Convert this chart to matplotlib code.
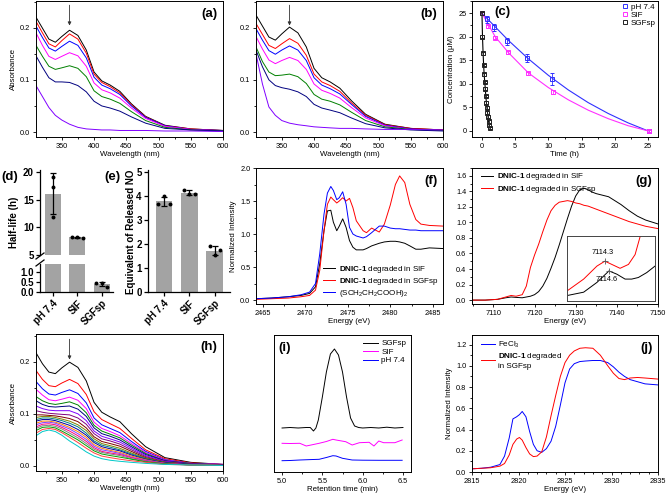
import numpy as np
import matplotlib
matplotlib.use('Agg')
import matplotlib.pyplot as plt
from matplotlib.ticker import MultipleLocator
from matplotlib.lines import Line2D

plt.rcParams['font.family'] = ['Liberation Sans', 'DejaVu Sans']
plt.rcParams['mathtext.fontset'] = 'custom'
plt.rcParams['mathtext.rm'] = 'Liberation Sans'
plt.rcParams['mathtext.bf'] = 'Liberation Sans:bold'
plt.rcParams['mathtext.it'] = 'Liberation Sans:italic'

# ---------------- data ----------------
wl = [310, 320, 330, 340, 350, 362, 375, 388, 400, 412, 425, 440, 458, 480, 510, 550, 600]

spec_a = [
    [0.220, 0.199, 0.178, 0.172, 0.183, 0.195, 0.185, 0.157, 0.115, 0.098, 0.090, 0.078, 0.054, 0.030, 0.013, 0.006, 0.003],
    [0.212, 0.190, 0.169, 0.163, 0.175, 0.188, 0.178, 0.151, 0.111, 0.095, 0.087, 0.075, 0.052, 0.029, 0.012, 0.006, 0.003],
    [0.203, 0.181, 0.161, 0.155, 0.164, 0.174, 0.166, 0.142, 0.105, 0.090, 0.083, 0.072, 0.050, 0.028, 0.012, 0.005, 0.003],
    [0.190, 0.166, 0.145, 0.139, 0.145, 0.152, 0.146, 0.126, 0.094, 0.081, 0.075, 0.065, 0.046, 0.026, 0.011, 0.005, 0.002],
    [0.166, 0.145, 0.126, 0.120, 0.123, 0.127, 0.122, 0.106, 0.079, 0.068, 0.063, 0.055, 0.039, 0.022, 0.009, 0.004, 0.002],
    [0.146, 0.124, 0.104, 0.096, 0.096, 0.095, 0.089, 0.077, 0.059, 0.050, 0.046, 0.040, 0.029, 0.017, 0.007, 0.004, 0.002],
    [0.089, 0.068, 0.047, 0.032, 0.023, 0.015, 0.009, 0.006, 0.005, 0.004, 0.004, 0.003, 0.003, 0.003, 0.002, 0.002, 0.001],
]
spec_b = [
    [0.224, 0.203, 0.182, 0.176, 0.188, 0.201, 0.190, 0.163, 0.122, 0.104, 0.096, 0.084, 0.060, 0.034, 0.015, 0.007, 0.004],
    [0.208, 0.187, 0.166, 0.160, 0.169, 0.179, 0.170, 0.147, 0.111, 0.096, 0.089, 0.078, 0.056, 0.032, 0.014, 0.007, 0.004],
    [0.198, 0.176, 0.156, 0.149, 0.157, 0.165, 0.157, 0.137, 0.104, 0.090, 0.083, 0.073, 0.053, 0.030, 0.013, 0.006, 0.003],
    [0.183, 0.159, 0.138, 0.131, 0.137, 0.143, 0.137, 0.120, 0.092, 0.080, 0.074, 0.065, 0.047, 0.027, 0.012, 0.005, 0.003],
    [0.163, 0.135, 0.115, 0.108, 0.109, 0.111, 0.106, 0.093, 0.072, 0.063, 0.059, 0.052, 0.038, 0.022, 0.010, 0.005, 0.003],
    [0.157, 0.125, 0.100, 0.089, 0.085, 0.082, 0.077, 0.068, 0.053, 0.046, 0.042, 0.037, 0.027, 0.016, 0.008, 0.004, 0.002],
    [0.150, 0.092, 0.048, 0.032, 0.022, 0.017, 0.014, 0.012, 0.010, 0.009, 0.008, 0.007, 0.007, 0.006, 0.005, 0.005, 0.004],
]
colors_ab = ['#000000', '#ff0000', '#0000ff', '#ff00ff', '#008000', '#000080', '#8000ff']

spec_h = [
    [0.217, 0.196, 0.180, 0.177, 0.188, 0.199, 0.189, 0.163, 0.122, 0.103, 0.094, 0.085, 0.062, 0.037, 0.016, 0.007, 0.003],
    [0.183, 0.166, 0.154, 0.152, 0.159, 0.166, 0.158, 0.137, 0.104, 0.089, 0.081, 0.072, 0.053, 0.031, 0.014, 0.006, 0.003],
    [0.162, 0.148, 0.138, 0.136, 0.141, 0.146, 0.139, 0.121, 0.092, 0.079, 0.072, 0.064, 0.047, 0.028, 0.012, 0.005, 0.003],
    [0.147, 0.136, 0.127, 0.125, 0.128, 0.132, 0.126, 0.110, 0.084, 0.072, 0.066, 0.058, 0.043, 0.026, 0.011, 0.005, 0.003],
    [0.133, 0.125, 0.120, 0.118, 0.120, 0.123, 0.117, 0.102, 0.078, 0.067, 0.061, 0.054, 0.040, 0.024, 0.010, 0.005, 0.002],
    [0.125, 0.118, 0.114, 0.113, 0.114, 0.115, 0.109, 0.095, 0.073, 0.062, 0.057, 0.050, 0.037, 0.022, 0.010, 0.004, 0.002],
    [0.115, 0.110, 0.107, 0.106, 0.106, 0.106, 0.100, 0.087, 0.067, 0.057, 0.052, 0.046, 0.034, 0.020, 0.009, 0.004, 0.002],
    [0.106, 0.103, 0.101, 0.100, 0.099, 0.098, 0.092, 0.080, 0.062, 0.052, 0.048, 0.042, 0.031, 0.018, 0.008, 0.004, 0.002],
    [0.098, 0.098, 0.097, 0.096, 0.094, 0.091, 0.085, 0.073, 0.056, 0.047, 0.043, 0.038, 0.028, 0.016, 0.007, 0.003, 0.001],
    [0.093, 0.095, 0.095, 0.093, 0.090, 0.086, 0.079, 0.068, 0.052, 0.043, 0.039, 0.034, 0.025, 0.015, 0.007, 0.003, 0.001],
    [0.089, 0.092, 0.092, 0.090, 0.087, 0.082, 0.075, 0.063, 0.048, 0.040, 0.036, 0.031, 0.023, 0.014, 0.006, 0.003, 0.001],
    [0.086, 0.089, 0.089, 0.087, 0.083, 0.078, 0.070, 0.059, 0.045, 0.037, 0.033, 0.029, 0.021, 0.013, 0.006, 0.003, 0.001],
    [0.082, 0.086, 0.086, 0.084, 0.080, 0.074, 0.066, 0.055, 0.041, 0.034, 0.030, 0.026, 0.019, 0.012, 0.005, 0.002, 0.001],
    [0.079, 0.083, 0.084, 0.082, 0.077, 0.071, 0.062, 0.051, 0.038, 0.031, 0.028, 0.024, 0.017, 0.011, 0.005, 0.002, 0.001],
    [0.075, 0.080, 0.081, 0.079, 0.074, 0.067, 0.058, 0.047, 0.035, 0.028, 0.025, 0.022, 0.016, 0.010, 0.005, 0.002, 0.001],
    [0.072, 0.077, 0.078, 0.076, 0.071, 0.063, 0.054, 0.043, 0.032, 0.026, 0.023, 0.020, 0.014, 0.009, 0.004, 0.002, 0.001],
    [0.068, 0.074, 0.075, 0.073, 0.067, 0.059, 0.050, 0.039, 0.029, 0.023, 0.020, 0.017, 0.013, 0.008, 0.004, 0.002, 0.001],
    [0.063, 0.070, 0.072, 0.070, 0.064, 0.055, 0.045, 0.034, 0.025, 0.019, 0.016, 0.013, 0.010, 0.007, 0.003, 0.002, 0.001],
    [0.058, 0.066, 0.069, 0.066, 0.059, 0.048, 0.038, 0.027, 0.019, 0.014, 0.011, 0.009, 0.007, 0.005, 0.003, 0.002, 0.001],
]
colors_h = ['#000000', '#ff0000', '#0000ff', '#ff00ff', '#008000', '#000080', '#8000ff', '#800080',
            '#800000', '#808000', '#008080', '#0000a0', '#ff8000', '#8040ff', '#ff0080', '#808080',
            '#00a000', '#ff4040', '#00c8c8']

# (c) kinetics
t_ph = [0.0, 0.8, 1.8, 3.8, 6.8, 10.6, 25.1]
c_ph = [25.0, 23.7, 22.0, 19.0, 15.5, 11.0, 0.0]
e_ph = [0.3, 0.7, 0.8, 0.8, 0.8, 1.2, 0.2]
t_sif = [0.0, 0.9, 1.9, 3.9, 6.9, 10.7, 25.1]
c_sif = [25.0, 22.2, 19.8, 16.7, 12.2, 8.2, 0.0]
e_sif = [0.3, 0.3, 0.3, 0.3, 0.3, 0.4, 0.2]
t_sgf = [0.0, 0.08, 0.17, 0.25, 0.33, 0.42, 0.5, 0.58, 0.67, 0.75, 0.83, 0.92, 1.0, 1.08, 1.17]
c_sgf = [25.0, 20.0, 16.5, 14.0, 12.0, 10.4, 9.0, 7.4, 6.0, 4.9, 3.9, 3.0, 2.0, 1.2, 0.6]
fit_t = [0, 2, 4, 7, 10, 13, 16, 19, 22, 25]
fit_ph = [25.0, 22.1, 19.2, 15.3, 11.8, 8.7, 6.0, 3.7, 1.7, 0.0]
fit_sif = [25.0, 20.0, 16.6, 12.3, 9.2, 6.6, 4.4, 2.6, 1.1, 0.0]

# (d) half-life, (e) released NO
conds = ['pH 7.4', 'SIF', 'SGFsp']
halflife_pts = [[19.1, 17.3, 11.9], [8.3, 8.2, 8.1], [0.46, 0.44, 0.26]]
no_pts = [[4.01, 3.67, 3.67], [4.26, 4.09, 4.09], [1.91, 1.54, 1.75]]

# (f) S K-edge
f_e = [2464.2, 2466.0, 2468.0, 2469.5, 2470.5, 2471.2, 2471.7, 2472.2, 2472.6, 2473.0, 2473.3, 2473.7,
       2474.0, 2474.4, 2474.8, 2475.2, 2475.6, 2476.0, 2476.8, 2477.2, 2477.8, 2478.7, 2479.3, 2480.0,
       2480.6, 2481.1, 2481.7, 2482.3, 2483.0, 2483.6, 2484.6, 2486.2]
f_sif = [0.02, 0.03, 0.05, 0.07, 0.10, 0.20, 0.55, 1.05, 1.35, 1.36, 1.18, 1.05, 1.12, 1.23, 1.10, 0.90,
         0.80, 0.76, 0.76, 0.78, 0.82, 0.86, 0.88, 0.89, 0.89, 0.88, 0.86, 0.82, 0.77, 0.77, 0.79, 0.78]
f_sgf = [0.01, 0.02, 0.03, 0.05, 0.07, 0.15, 0.45, 1.05, 1.45, 1.56, 1.52, 1.47, 1.50, 1.55, 1.50, 1.54,
         1.40, 1.20, 1.05, 1.02, 1.09, 1.03, 1.15, 1.44, 1.75, 1.88, 1.78, 1.45, 1.22, 1.15, 1.13, 1.12]
f_ref = [0.02, 0.03, 0.05, 0.08, 0.12, 0.25, 0.70, 1.30, 1.62, 1.72, 1.66, 1.52, 1.55, 1.64, 1.45, 1.10,
         1.00, 0.97, 0.94, 0.96, 1.02, 1.12, 1.12, 1.09, 1.08, 1.08, 1.07, 1.06, 1.06, 1.05, 1.05, 1.05]

# (g) Fe K-edge
g_e = [7105, 7108, 7111, 7113, 7114.3, 7115.5, 7117, 7118, 7119, 7120, 7121, 7122, 7123, 7124, 7125, 7126,
       7127, 7128, 7129, 7130, 7131, 7132, 7133, 7134, 7135, 7136.5, 7138, 7139.5, 7141, 7143, 7145, 7147, 7150]
g_sif = [0.00, 0.00, 0.01, 0.03, 0.04, 0.035, 0.03, 0.04, 0.05, 0.07, 0.11, 0.18, 0.28, 0.41, 0.55, 0.71,
         0.88, 1.05, 1.21, 1.34, 1.42, 1.44, 1.42, 1.39, 1.37, 1.35, 1.33, 1.28, 1.23, 1.15, 1.08, 1.03, 0.98]
g_sgf = [0.00, 0.00, 0.01, 0.04, 0.06, 0.05, 0.07, 0.18, 0.42, 0.58, 0.72, 0.88, 1.03, 1.15, 1.22, 1.26,
         1.27, 1.28, 1.27, 1.25, 1.24, 1.22, 1.21, 1.19, 1.17, 1.14, 1.11, 1.08, 1.05, 1.01, 0.98, 0.95, 0.92]
ins_e_sgf = [7111.55, 7112.73, 7113.71, 7114.3, 7114.81, 7115.42, 7116.04, 7116.53, 7116.9, 7117.26]
ins_sgf = [0.0313, 0.0436, 0.0576, 0.0629, 0.0594, 0.0552, 0.0594, 0.0700, 0.0893, 0.1100]
ins_e_sif = [7111.55, 7112.73, 7113.71, 7114.6, 7115.18, 7115.79, 7116.28, 7116.77, 7117.39, 7118.0]
ins_sif = [0.0260, 0.0295, 0.0400, 0.0524, 0.0489, 0.0436, 0.0436, 0.0453, 0.0506, 0.0576]

# (i) HPLC
i_t_sgf = [5.0, 5.1, 5.2, 5.3, 5.35, 5.39, 5.42, 5.45, 5.5, 5.55, 5.6, 5.65, 5.7, 5.75, 5.8, 5.85, 5.9,
           5.95, 6.0, 6.1, 6.2, 6.3, 6.4, 6.5]
i_sgf = [44, 44.5, 44, 44.5, 44.5, 41, 44, 52, 75, 100, 118, 123, 117, 100, 75, 54, 46, 44.5, 44, 44.5,
         44, 44.8, 44, 44.5]
i_t_sif = [5.0, 5.1, 5.22, 5.3, 5.36, 5.46, 5.55, 5.63, 5.67, 5.79, 5.87, 5.96, 6.08, 6.14, 6.2, 6.26,
           6.4, 6.49]
i_sif = [28.7, 28.5, 28.7, 26.0, 27.0, 28.7, 30.5, 32.7, 32.0, 30.3, 27.0, 29.3, 29.7, 26.0, 31.0, 29.3,
         29.3, 32.0]
i_t_ph = [5.0, 5.1, 5.22, 5.35, 5.46, 5.55, 5.63, 5.67, 5.75, 5.87, 6.0, 6.2, 6.4, 6.49]
i_ph = [11.3, 11.5, 12.0, 12.4, 12.7, 14.5, 16.3, 16.0, 13.7, 12.0, 11.8, 11.7, 11.7, 11.7]

# (j) Cl K-edge
j_e = [2815, 2816, 2817, 2818, 2818.5, 2819.0, 2819.4, 2819.8, 2820.1, 2820.4, 2820.8, 2821.2, 2821.6,
       2822.0, 2822.5, 2823.0, 2823.5, 2824.0, 2824.5, 2825.0, 2825.5, 2826.0, 2826.6, 2827.2, 2828.0,
       2828.8, 2829.6, 2830.2, 2830.8, 2831.4, 2832.0, 2832.8, 2833.6, 2835]
j_fecl3 = [0.03, 0.035, 0.045, 0.07, 0.15, 0.32, 0.50, 0.52, 0.54, 0.57, 0.52, 0.38, 0.26, 0.20, 0.185,
           0.22, 0.29, 0.43, 0.63, 0.84, 0.97, 1.02, 1.04, 1.045, 1.05, 1.05, 1.03, 0.99, 0.94, 0.90, 0.87,
           0.85, 0.83, 0.82]
j_sgf = [0.03, 0.035, 0.04, 0.055, 0.08, 0.16, 0.26, 0.31, 0.325, 0.30, 0.23, 0.17, 0.145, 0.15, 0.19,
         0.33, 0.53, 0.72, 0.90, 1.03, 1.10, 1.14, 1.165, 1.17, 1.165, 1.10, 1.00, 0.93, 0.88, 0.87, 0.885,
         0.89, 0.885, 0.875]

# ---------------- layout helpers ----------------
W, H = 667, 494
fig = plt.figure(figsize=(6.67, 4.94), dpi=100)


def box(x0, y0, x1, y1):
    return [x0 / W, 1 - y1 / H, (x1 - x0) / W, (y1 - y0) / H]


TICK = 5.3
LAB = 5.7
PANEL = 9.5
DNIC_SIF = '$\\mathbf{DNIC‐1}$ degraded in SIF'
DNIC_SGF = '$\\mathbf{DNIC‐1}$ degraded in SGFsp'


def origin(ax):
    for s in ax.spines.values():
        s.set_linewidth(0.7)
    ax.tick_params(which='both', direction='out', labelsize=TICK, width=0.6, pad=1.5,
                   top=False, right=False)
    ax.tick_params(which='major', length=2.5)
    ax.tick_params(which='minor', length=1.5)


def panel(ax, s, x, y, ha='right'):
    ax.text(x, y, s, transform=ax.transAxes, ha=ha, va='top', fontsize=PANEL, fontweight='bold')


def spectra(ax, curves, colors, ylab=True):
    for vals, col in zip(curves, colors):
        ax.plot(wl, vals, color=col, lw=0.7)
    ax.set_xlim(310, 600)
    ax.xaxis.set_minor_locator(MultipleLocator(25))
    ax.yaxis.set_minor_locator(MultipleLocator(0.05))
    ax.set_xticks([350, 400, 450, 500, 550, 600])
    ax.set_yticks([0.0, 0.1, 0.2])
    ax.set_yticklabels(['0.0', '0.1', '0.2'])
    origin(ax)
    ax.set_xlabel('Wavelength (nm)', fontsize=LAB, labelpad=1)
    if ylab:
        ax.set_ylabel('Absorbance', fontsize=LAB, labelpad=2)
    ax.annotate('', xy=(362, 0.204), xytext=(362, 0.243),
                arrowprops=dict(arrowstyle='-|>', lw=0.6, color='#333333', mutation_scale=5,
                                shrinkA=0, shrinkB=0))


# (a)
ax_a = fig.add_axes(box(36, 1, 223, 137))
spectra(ax_a, spec_a, colors_ab)
ax_a.set_ylim(-0.0095, 0.251)
panel(ax_a, '(a)', 0.97, 0.95)

# (b)
ax_b = fig.add_axes(box(256, 1, 443, 137))
spectra(ax_b, spec_b, colors_ab, ylab=False)
ax_b.set_ylim(-0.0095, 0.251)
panel(ax_b, '(b)', 0.97, 0.95)

# (c)
ax_c = fig.add_axes(box(472, 1, 658, 137))
ax_c.plot(fit_t, fit_ph, color='#3030ff', lw=0.8)
ax_c.plot(fit_t, fit_sif, color='#ff30ff', lw=0.8)
ax_c.plot(t_sgf, c_sgf, color='#000000', lw=0.8)
ax_c.errorbar(t_ph, c_ph, yerr=e_ph, fmt='s', ms=3.5, mfc='none', mec='#3030ff', mew=0.7,
              ecolor='#3030ff', elinewidth=0.6, capsize=1.5, capthick=0.6)
ax_c.errorbar(t_sif, c_sif, yerr=e_sif, fmt='s', ms=3.5, mfc='none', mec='#ff30ff', mew=0.7,
              ecolor='#ff30ff', elinewidth=0.6, capsize=1.5, capthick=0.6)
ax_c.errorbar(t_sgf, c_sgf, yerr=[0.3] * len(t_sgf), fmt='s', ms=3.2, mfc='none', mec='#222222',
              mew=0.7, ecolor='#222222', elinewidth=0.6, capsize=1.2, capthick=0.6)
ax_c.set_xlim(-1.5, 26.5)
ax_c.set_ylim(-1.3, 27.6)
ax_c.xaxis.set_major_locator(MultipleLocator(5))
ax_c.xaxis.set_minor_locator(MultipleLocator(2.5))
ax_c.yaxis.set_major_locator(MultipleLocator(5))
ax_c.yaxis.set_minor_locator(MultipleLocator(2.5))
origin(ax_c)
ax_c.set_xlabel('Time (h)', fontsize=LAB, labelpad=1)
ax_c.set_ylabel('Concentration (μM)', fontsize=LAB, labelpad=2)
h_c = [Line2D([], [], ls='none', marker='s', ms=3.5, mfc='none', mec=c, mew=0.7)
       for c in ['#3030ff', '#ff30ff', '#222222']]
ax_c.legend(h_c, ['pH 7.4', 'SIF', 'SGFsp'], loc='upper right', fontsize=5.8, frameon=False,
            handlelength=0.8, handletextpad=0.3, labelspacing=0.05, borderaxespad=0.2,
            borderpad=0.1)
panel(ax_c, '(c)', 0.12, 0.96, ha='left')

# (d) broken-axis bar chart
bar_gray = '#a3a3a3'
xpos = np.arange(3)
hl_mean = [np.mean(v) for v in halflife_pts]
hl_sd = [np.std(v, ddof=1) for v in halflife_pts]
d_off = [[0, 0, 0], [-0.22, 0, 0.22], [-0.22, 0, 0.22]]
ax_dt = fig.add_axes(box(40, 170, 113, 255))
ax_db = fig.add_axes(box(40, 264, 113, 292))
for ax in (ax_dt, ax_db):
    ax.bar(xpos, hl_mean, width=0.66, color=bar_gray, zorder=1)
    ax.errorbar(xpos, hl_mean, yerr=hl_sd, fmt='none', ecolor='k', elinewidth=0.9, capsize=2,
                capthick=0.9, zorder=2)
    for i, vals in enumerate(halflife_pts):
        ax.scatter(np.array(d_off[i]) + i, vals, s=8, c='k', zorder=3, linewidths=0)
    ax.set_xlim(-0.54, 2.47)
    ax.spines['top'].set_visible(False)
    ax.spines['right'].set_visible(False)
    for s in ax.spines.values():
        s.set_linewidth(0.9)
    ax.tick_params(direction='out', width=0.9, length=3, labelsize=7, pad=1.5)
ax_dt.set_ylim(5, 20.4)
ax_dt.set_yticks([5, 10, 15, 20])
ax_dt.set_yticklabels(['5', '10', '15', '20'], fontweight='bold')
ax_dt.spines['bottom'].set_visible(False)
ax_dt.set_xticks([])
ax_db.set_ylim(0, 1.4)
ax_db.set_yticks([0, 0.5, 1.0])
ax_db.set_yticklabels(['0.0', '0.5', '1.0'], fontweight='bold')
ax_db.set_xticks(xpos)
ax_db.set_xticklabels(conds, rotation=45, ha='right', rotation_mode='anchor', fontweight='bold',
                      fontsize=7)
for (x0, y0, x1, y1) in [(36, 259, 44, 253), (36, 266, 44, 260)]:
    fig.add_artist(Line2D([x0 / W, x1 / W], [1 - y0 / H, 1 - y1 / H], color='k', lw=0.9))
fig.text(14 / W, 1 - 222 / H, 'Half-life (h)', rotation=90, ha='center', va='center',
         fontsize=7, fontweight='bold')
fig.text(1 / W, 1 - 171 / H, '(d)', ha='left', va='top', fontsize=PANEL, fontweight='bold')

# (e)
no_mean = [np.mean(v) for v in no_pts]
no_sd = [np.std(v, ddof=1) for v in no_pts]
e_off = [[0, -0.22, 0.22], [-0.22, 0, 0.22], [-0.2, 0, 0.2]]
ax_e = fig.add_axes(box(148, 170, 230, 292))
ax_e.bar(xpos, no_mean, width=0.66, color=bar_gray, zorder=1)
ax_e.errorbar(xpos, no_mean, yerr=no_sd, fmt='none', ecolor='k', elinewidth=0.9, capsize=2,
              capthick=0.9, zorder=2)
for i, vals in enumerate(no_pts):
    ax_e.scatter(np.array(e_off[i]) + i, vals, s=8, c='k', zorder=3, linewidths=0)
ax_e.set_xlim(-0.63, 2.6)
ax_e.set_ylim(0, 5.1)
ax_e.set_yticks([0, 1, 2, 3, 4, 5])
ax_e.set_yticklabels(['0', '1', '2', '3', '4', '5'], fontweight='bold')
ax_e.set_xticks(xpos)
ax_e.set_xticklabels(conds, rotation=45, ha='right', rotation_mode='anchor', fontweight='bold',
                     fontsize=7)
ax_e.spines['top'].set_visible(False)
ax_e.spines['right'].set_visible(False)
for s in ax_e.spines.values():
    s.set_linewidth(0.9)
ax_e.tick_params(direction='out', width=0.9, length=3, labelsize=7, pad=1.5)
fig.text(131 / W, 1 - 232 / H, 'Equivalent of Released NO', rotation=90, ha='center',
         va='center', fontsize=7, fontweight='bold')
fig.text(104 / W, 1 - 171 / H, '(e)', ha='left', va='top', fontsize=PANEL, fontweight='bold')

# (f)
ax_f = fig.add_axes(box(256, 168, 443, 304))
ax_f.plot(f_e, f_sif, color='#000000', lw=0.7, label=DNIC_SIF)
ax_f.plot(f_e, f_sgf, color='#ff0000', lw=0.7, label=DNIC_SGF)
ax_f.plot(f_e, f_ref, color='#0000ff', lw=0.7, label='(SCH$_2$CH$_2$COOH)$_2$')
ax_f.set_xlim(2464.2, 2486.2)
ax_f.set_ylim(-0.06, 2.0)
ax_f.set_xticks([2465, 2470, 2475, 2480, 2485])
ax_f.xaxis.set_minor_locator(MultipleLocator(2.5))
ax_f.set_yticks([0.0, 0.5, 1.0, 1.5, 2.0])
ax_f.set_yticklabels(['0.0', '0.5', '1.0', '1.5', '2.0'])
ax_f.yaxis.set_minor_locator(MultipleLocator(0.25))
origin(ax_f)
ax_f.set_xlabel('Energy (eV)', fontsize=LAB, labelpad=1)
ax_f.set_ylabel('Normalized Intensity', fontsize=LAB, labelpad=2)
ax_f.legend(loc='lower left', bbox_to_anchor=(0.33, 0.0), fontsize=5.8, frameon=False,
            handlelength=1.6, handletextpad=0.4, labelspacing=0.15, borderaxespad=0.2)
panel(ax_f, '(f)', 0.97, 0.95)

# (g)
ax_g = fig.add_axes(box(472, 168, 658, 304))
ax_g.plot(g_e, g_sif, color='#000000', lw=0.7, label=DNIC_SIF)
ax_g.plot(g_e, g_sgf, color='#ff0000', lw=0.7, label=DNIC_SGF)
ax_g.set_xlim(7104.8, 7150)
ax_g.set_ylim(-0.05, 1.7)
ax_g.set_xticks([7110, 7120, 7130, 7140, 7150])
ax_g.xaxis.set_minor_locator(MultipleLocator(5))
ax_g.set_yticks([0.0, 0.2, 0.4, 0.6, 0.8, 1.0, 1.2, 1.4, 1.6])
ax_g.set_yticklabels(['0.0', '0.2', '0.4', '0.6', '0.8', '1.0', '1.2', '1.4', '1.6'])
ax_g.yaxis.set_minor_locator(MultipleLocator(0.1))
origin(ax_g)
ax_g.set_xlabel('Energy (eV)', fontsize=LAB, labelpad=1)
ax_g.legend(loc='upper left', bbox_to_anchor=(0.02, 1.01), fontsize=5.8, frameon=False,
            handlelength=1.6, handletextpad=0.4, labelspacing=0.15, borderaxespad=0.2)
panel(ax_g, '(g)', 0.97, 0.95)

ax_in = fig.add_axes(box(567, 236, 655, 301))
ax_in.plot(ins_e_sgf, ins_sgf, color='#ff0000', lw=0.7)
ax_in.plot(ins_e_sif, ins_sif, color='#000000', lw=0.7)
ax_in.plot([7114.3], [0.0629], marker='+', color='#555555', ms=5, mew=0.6)
ax_in.plot([7114.6], [0.0524], marker='+', color='#555555', ms=5, mew=0.6)
ax_in.text(7114.1, 0.068, '7114.3', ha='center', va='bottom', fontsize=5.3)
ax_in.text(7114.45, 0.047, '7114.6', ha='center', va='top', fontsize=5.3)
ax_in.set_xlim(7111.5, 7118)
ax_in.set_ylim(0.02, 0.09)
ax_in.set_xticks([])
ax_in.set_yticks([])
for s in ax_in.spines.values():
    s.set_linewidth(0.7)
    s.set_color('#444444')

# (h)
ax_h = fig.add_axes(box(36, 334, 223, 471))
spectra(ax_h, spec_h, colors_h)
ax_h.set_ylim(-0.0096, 0.253)
panel(ax_h, '(h)', 0.97, 0.95)

# (i)
ax_i = fig.add_axes(box(274, 335, 411, 472))
ax_i.plot(i_t_sgf, i_sgf, color='#000000', lw=0.7, label='SGFsp')
ax_i.plot(i_t_sif, i_sif, color='#ff00ff', lw=0.7, label='SIF')
ax_i.plot(i_t_ph, i_ph, color='#0000ff', lw=0.7, label='pH 7.4')
ax_i.set_xlim(4.9, 6.6)
ax_i.set_ylim(0, 137)
ax_i.set_xticks([5.0, 5.5, 6.0, 6.5])
ax_i.set_xticklabels(['5.0', '5.5', '6.0', '6.5'])
ax_i.xaxis.set_minor_locator(MultipleLocator(0.25))
ax_i.set_yticks([])
origin(ax_i)
ax_i.set_xlabel('Retention time (min)', fontsize=LAB, labelpad=1)
ax_i.legend(loc='upper right', fontsize=5.8, frameon=False, handlelength=1.8, handletextpad=0.4,
            labelspacing=0.1, borderaxespad=0.2)
panel(ax_i, '(i)', 0.03, 0.95, ha='left')

# (j)
ax_j = fig.add_axes(box(472, 335, 658, 472))
ax_j.plot(j_e, j_fecl3, color='#0000ff', lw=0.7, label='FeCl$_3$')
ax_j.plot(j_e, j_sgf, color='#ff0000', lw=0.7, label='$\\mathbf{DNIC‐1}$ degraded\nin SGFsp')
ax_j.set_xlim(2815, 2835)
ax_j.set_ylim(0.0, 1.29)
ax_j.set_xticks([2815, 2820, 2825, 2830, 2835])
ax_j.xaxis.set_minor_locator(MultipleLocator(1))
ax_j.set_yticks([0.0, 0.2, 0.4, 0.6, 0.8, 1.0, 1.2])
ax_j.set_yticklabels(['0.0', '0.2', '0.4', '0.6', '0.8', '1.0', '1.2'])
ax_j.yaxis.set_minor_locator(MultipleLocator(0.1))
origin(ax_j)
ax_j.set_xlabel('Energy (eV)', fontsize=LAB, labelpad=1)
ax_j.set_ylabel('Normalized Intensity', fontsize=LAB, labelpad=2)
ax_j.legend(loc='upper left', bbox_to_anchor=(0.02, 1.0), fontsize=5.8, frameon=False,
            handlelength=1.8, handletextpad=0.4, labelspacing=0.15, borderaxespad=0.2)
panel(ax_j, '(j)', 0.97, 0.95)

fig.savefig('out.png', dpi=100)
